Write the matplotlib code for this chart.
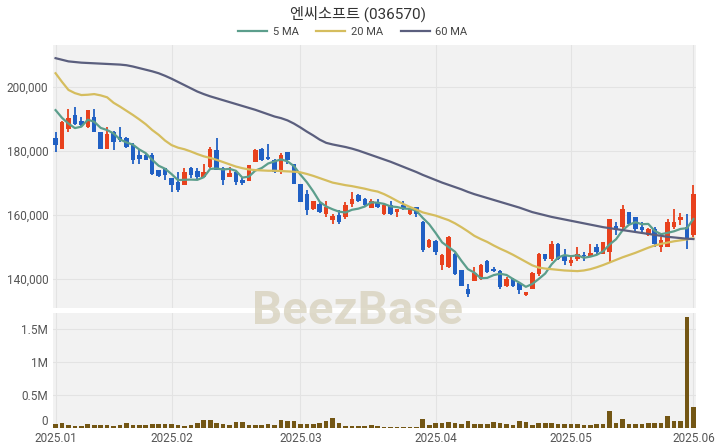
import numpy as np
import pandas as pd
import matplotlib
matplotlib.use('Agg')
import matplotlib.pyplot as plt
from matplotlib.lines import Line2D

plt.rcParams['font.family'] = ['Roboto', 'Noto Sans CJK KR', 'DejaVu Sans']

title = '엔씨소프트 (036570)'
tick_pos = [0, 18, 38, 59, 80, 99]
tick_labels = ['2025.01', '2025.02', '2025.03', '2025.04', '2025.05', '2025.06']

# daily candles
opens = [183900, 180700, 186900, 191200, 189300, 187500, 190600, 185900, 180700, 185900,
         184400, 184100, 181800, 178600, 178600, 178600, 174000, 174500, 171400, 170300,
         169300, 174700, 173800, 171900, 175000, 180200, 174500, 171900, 173400, 170800,
         170500, 176600, 180700, 178100, 177100, 174000, 179700, 176000, 169800, 166400,
         162000, 163500, 160400, 158300, 159900, 159400, 163500, 166100, 165100, 162200,
         164100, 160400, 163200, 160900, 163200, 160400, 162400, 157800, 150000, 151800,
         144500, 143800, 147900, 142700, 137000, 139500, 140100, 145500, 143200, 142600,
         137800, 139900, 138900, 134900, 137000, 141700, 147700, 146400, 151000, 147400,
         145100, 146400, 147600, 146900, 150000, 147900, 148500, 156500, 156300, 160900,
         159400, 156300, 153700, 155700, 150000, 150000, 156300, 158300, 156300, 153700]
highs = [185900, 189300, 193200, 193800, 190600, 192800, 193000, 186000, 187500, 186200,
         187300, 184200, 182300, 180700, 179200, 179200, 174000, 174700, 171400, 173400,
         174700, 175000, 174500, 176000, 181300, 183900, 175000, 175000, 173600, 171400,
         175700, 180700, 180900, 182000, 177600, 179200, 179700, 176000, 169800, 167700,
         164300, 164100, 164300, 160400, 161500, 164100, 167200, 166700, 165200, 164900,
         165100, 163500, 164300, 162000, 164300, 162200, 162500, 158000, 152600, 152100,
         147900, 153300, 148200, 143000, 138500, 143800, 144800, 146000, 143800, 142900,
         140600, 140300, 139100, 136100, 142200, 148200, 147900, 151800, 151300, 149300,
         146900, 150000, 148600, 151000, 151000, 151600, 158800, 157800, 163000, 161000,
         159400, 157800, 156000, 156300, 153100, 158900, 162000, 160600, 160400, 169300]
lows = [179700, 180700, 185900, 188200, 187500, 187000, 185900, 180700, 180700, 180200,
        182800, 181000, 176000, 176000, 177100, 172600, 171900, 170800, 167200, 167200,
        169300, 171400, 171300, 171900, 174500, 174000, 169300, 171900, 169500, 169300,
        170500, 176600, 176800, 177100, 173200, 172900, 176000, 169800, 164100, 160100,
        161500, 160700, 159400, 157300, 157300, 158900, 162500, 164100, 162800, 162200,
        162200, 160100, 160100, 159400, 161500, 160000, 159400, 148600, 149700, 147400,
        142700, 143400, 141300, 137800, 134400, 139300, 139800, 141900, 142200, 137000,
        137500, 137400, 135400, 134700, 136800, 141100, 145800, 145800, 146100, 144300,
        144100, 145800, 145800, 146900, 147900, 147700, 145200, 153700, 155700, 157000,
        154700, 154200, 153500, 150000, 148400, 150000, 155700, 156800, 149500, 153100]
closes = [181800, 189100, 190300, 188500, 188000, 192700, 185900, 180700, 185100, 182800,
          183300, 181300, 177100, 177600, 177100, 172900, 172100, 172400, 169300, 167700,
          173400, 172400, 172000, 173400, 180700, 174000, 170800, 173100, 170300, 170100,
          175500, 180200, 177100, 177400, 173400, 178600, 177100, 169800, 164100, 161500,
          164300, 160900, 162500, 159700, 157800, 163000, 165100, 164300, 163000, 164300,
          162500, 163200, 160400, 162000, 162000, 162000, 160400, 149000, 152100, 148400,
          147400, 153100, 141700, 138000, 135400, 142000, 144300, 142200, 142400, 137500,
          140100, 138000, 136500, 135900, 142000, 147900, 146400, 151000, 146400, 145800,
          146100, 147900, 147100, 148200, 148600, 151600, 158600, 155200, 162000, 157300,
          155700, 155400, 155700, 151000, 152300, 157800, 157800, 159400, 152100, 166700]
volumes = [60, 70, 40, 35, 35, 60, 50, 45, 40, 25,
           45, 75, 40, 50, 50, 55, 55, 55, 60, 40,
           30, 45, 80, 120, 120, 70, 55, 50, 90, 90,
           40, 45, 50, 55, 40, 120, 110, 110, 65, 65,
           55, 70, 100, 150, 80, 35, 35, 35, 25, 45,
           30, 20, 20, 20, 20, 20, 20, 130, 50, 70,
           80, 90, 80, 60, 100, 60, 60, 60, 90, 75,
           65, 50, 100, 95, 50, 75, 75, 75, 60, 65,
           65, 65, 50, 50, 60, 60, 260, 70, 140, 60,
           60, 60, 70, 80, 80, 180, 110, 100, 1680, 320]
volumes = [v * 1000 for v in volumes]

# moving averages; the first values depend on days before the chart
ma5_start = [192700, 190300, 188500, 187100]
ma20 = [204200, 201500, 199000, 198000, 197400, 197500, 197700, 197300, 196700, 195000,
        193800, 192500, 191200, 189800, 188300, 186500, 185000, 183200, 181800, 181000,
        180500, 179800, 179000, 178300, 177800, 177200, 176500, 175800, 175100, 174600,
        174200, 174000, 173900, 173800, 173800, 173700, 173600, 173500, 173300, 172800,
        172200, 171500, 170800, 170100, 169700, 169300, 169000, 168600, 168200, 167700,
        167300, 166500, 165500, 164400, 163400, 162500, 161700, 160800, 160300, 159800,
        159100, 158400, 157400, 156200, 154900, 153500, 152500, 151600, 150500, 149500,
        148600, 147600, 146500, 145400, 144300, 143600, 143300, 143100, 142900, 142700,
        142600, 142500, 142700, 143100, 143700, 144400, 145200, 146000, 146800, 147500,
        148200, 149000, 149800, 150500, 151000, 151400, 151800, 152100, 152400, 152700]
ma60 = [208900, 208400, 207900, 207700, 207500, 207400, 207300, 207200, 207100, 207000,
        206900, 206700, 206300, 205800, 205300, 204800, 204200, 203400, 202500, 201500,
        200500, 199500, 198500, 197700, 197000, 196400, 195800, 195200, 194600, 194000,
        193400, 192800, 192100, 191400, 190700, 190200, 189500, 188500, 187300, 186000,
        184800, 183500, 182500, 182000, 181600, 181200, 180700, 180100, 179400, 178700,
        178000, 177300, 176600, 175800, 175000, 174200, 173400, 172500, 171700, 170900,
        170100, 169400, 168700, 168000, 167200, 166500, 165900, 165300, 164700, 164100,
        163500, 162900, 162300, 161600, 160900, 160400, 159900, 159400, 159000, 158600,
        158200, 157800, 157400, 157000, 156600, 156200, 155900, 155600, 155300, 155000,
        154700, 154400, 154100, 153800, 153500, 153200, 153000, 152800, 152600, 152500]

df = pd.DataFrame({'open': opens, 'high': highs, 'low': lows, 'close': closes, 'volume': volumes})
df['ma5'] = df['close'].rolling(5).mean()
df.loc[:3, 'ma5'] = ma5_start
df['ma20'] = ma20
df['ma60'] = ma60

up_col = '#e8411d'
down_col = '#2060c4'
bg = '#f2f2f2'
grid_col = '#e3e3e3'
text_col = '#555555'

fig = plt.figure(figsize=(7.2, 4.48), dpi=100)
ax = fig.add_axes([0.0736, 0.3125, 0.893, 0.587])
axv = fig.add_axes([0.0736, 0.0446, 0.893, 0.257], sharex=ax)

x = np.arange(len(df))
up = df['close'] >= df['open']
cols = np.where(up, up_col, down_col)
body_lo = np.minimum(df['open'], df['close'])
body_h = np.maximum(np.abs(df['close'] - df['open']), 250)

ax.vlines(x, df['low'], df['high'], colors=cols, linewidth=1.3, zorder=3)
ax.bar(x, body_h, bottom=body_lo, width=0.7, color=cols, zorder=4)

ax.plot(x, df['ma5'], color='#5c9e8c', lw=1.6, zorder=5)
ax.plot(x, df['ma20'], color='#d5bd5e', lw=1.6, zorder=5)
ax.plot(x, df['ma60'], color='#5b5f7e', lw=1.6, zorder=5)

axv.bar(x, df['volume'], width=0.72, color='#735614', zorder=3)

for a in (ax, axv):
    a.set_facecolor(bg)
    for s in a.spines.values():
        s.set_visible(False)
    a.grid(True, color=grid_col, lw=0.8, zorder=0)
    a.set_axisbelow(True)
    a.tick_params(length=0, colors=text_col, labelsize=8.5)

ax.set_xlim(-0.4, 99.4)
ax.set_ylim(131000, 213000)
ax.set_yticks([140000, 160000, 180000, 200000])
ax.yaxis.set_major_formatter(matplotlib.ticker.FuncFormatter(lambda v, p: f'{int(v):,}'))
ax.tick_params(labelbottom=False)

axv.set_ylim(0, 1750000)
axv.set_yticks([0, 500000, 1000000, 1500000])
axv.set_yticklabels(['0', '0.5M', '1M', '1.5M'])
axv.get_yticklabels()[0].set_verticalalignment('bottom')
axv.set_xticks(tick_pos)
axv.set_xticklabels(tick_labels)
axv.tick_params(axis='x', pad=3)

fig.text(0.497, 0.969, title, ha='center', va='center', fontsize=11, color='#333333')
handles = [Line2D([], [], color='#5c9e8c', lw=1.6, label='5 MA'),
           Line2D([], [], color='#d5bd5e', lw=1.6, label='20 MA'),
           Line2D([], [], color='#5b5f7e', lw=1.6, label='60 MA')]
fig.legend(handles=handles, loc='center', bbox_to_anchor=(0.49, 0.929), ncol=3, frameon=False,
           fontsize=8, handlelength=2.6, columnspacing=1.6, handletextpad=0.5, labelcolor='#444444')

fig.text(0.497, 0.305, 'BeezBase', ha='center', va='center', fontsize=34, fontweight='bold',
         color='#d8d2be', alpha=0.8, zorder=10)

fig.savefig('out.png', dpi=100)
